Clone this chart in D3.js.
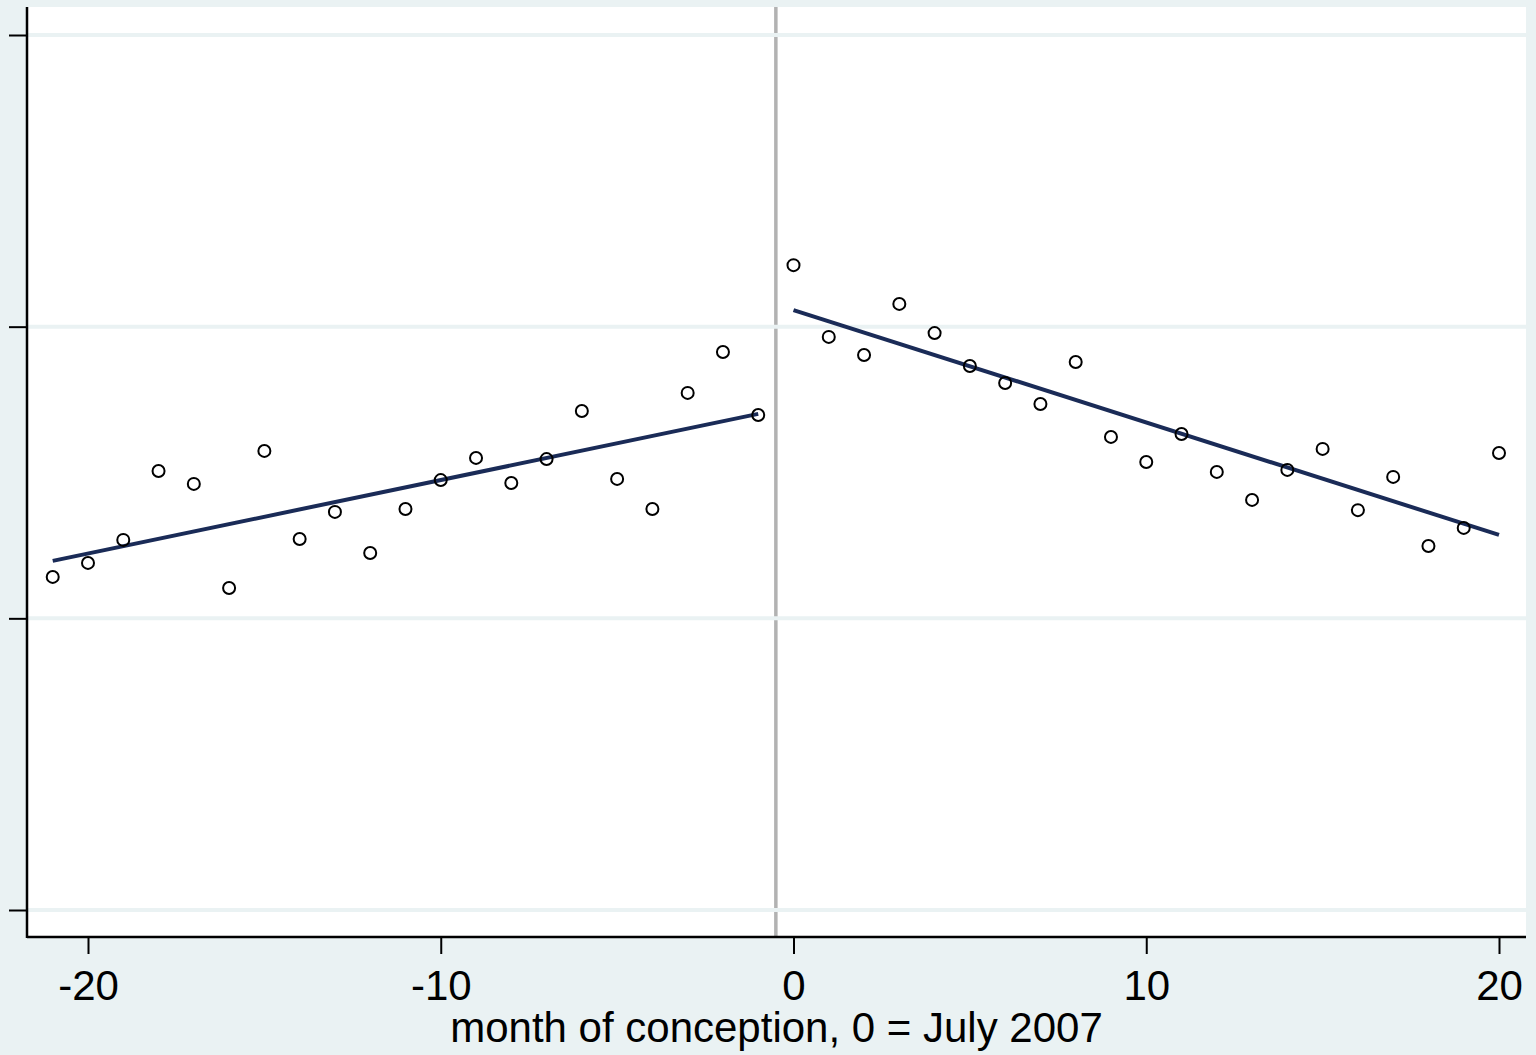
<!DOCTYPE html>
<html>
<head>
<meta charset="utf-8">
<script src="https://cdn.jsdelivr.net/npm/d3@7"></script>
<style>
    html, body { margin: 0; padding: 0; background: #eaf2f3; }
    svg { display: block; }
</style>
</head>
<body>
<div id="graph"></div>
<script>
// months relative to July 2007, one point per month
const monthsBefore = [-21, -20, -19, -18, -17, -16, -15, -14, -13, -12, -11,
    -10, -9, -8, -7, -6, -5, -4, -3, -2, -1];
const valuesBefore = [1.142, 1.190, 1.269, 1.505, 1.461, 1.104, 1.574, 1.272, 1.365, 1.224, 1.375,
    1.474, 1.550, 1.464, 1.546, 1.711, 1.478, 1.375, 1.773, 1.913, 1.697];

const monthsAfter = [0, 1, 2, 3, 4, 5, 6, 7, 8, 9, 10,
    11, 12, 13, 14, 15, 16, 17, 18, 19, 20];
const valuesAfter = [2.211, 1.965, 1.903, 2.078, 1.978, 1.865, 1.807, 1.735, 1.879, 1.622, 1.536,
    1.632, 1.502, 1.406, 1.509, 1.581, 1.371, 1.485, 1.248, 1.310, 1.567];

// linear fit endpoints on each side
const fitBeforeMonths = [-21, -1];
const fitBeforeValues = [1.197, 1.701];
const fitAfterMonths = [0, 20];
const fitAfterValues = [2.057, 1.286];

const cutoff = -0.5;

const xTicks = [-20, -10, 0, 10, 20];
const yTicks = [0, 1, 2, 3];

const width = 1536;
const height = 1055;
const plot = {left: 27, right: 1526, top: 7, bottom: 937};
const font = '42px "Liberation Sans", Arial, sans-serif';

const x = d3.scaleLinear()
    .domain([-20, 20])
    .range([88, 1499]);
const y = d3.scaleLinear()
    .domain([0, 3])
    .range([910, 35]);

const svg = d3.select('#graph').append('svg')
    .attr('width', width)
    .attr('height', height);

svg.append('rect')
    .attr('width', width)
    .attr('height', height)
    .attr('fill', '#eaf2f3');

svg.append('rect')
    .attr('x', plot.left)
    .attr('y', plot.top)
    .attr('width', plot.right - plot.left)
    .attr('height', plot.bottom - plot.top)
    .attr('fill', '#ffffff');

// vertical line at the cutoff (gridlines are drawn over it)
svg.append('line')
    .attr('x1', x(cutoff))
    .attr('x2', x(cutoff))
    .attr('y1', plot.top)
    .attr('y2', plot.bottom)
    .attr('stroke', '#b2b2b2')
    .attr('stroke-width', 3.5);

svg.append('g')
    .attr('class', 'grid')
    .selectAll('line')
    .data(yTicks)
    .enter()
.append('line')
    .attr('x1', plot.left)
    .attr('x2', plot.right)
    .attr('y1', (d) => { return y(d) })
    .attr('y2', (d) => { return y(d) })
    .attr('stroke', '#eaf2f3')
    .attr('stroke-width', 4);

const line = d3.line()
    .x((d) => { return x(d.m) })
    .y((d) => { return y(d.v) });

const fits = [
    fitBeforeMonths.map((m, i) => { return {m: m, v: fitBeforeValues[i]} }),
    fitAfterMonths.map((m, i) => { return {m: m, v: fitAfterValues[i]} })
];

svg.selectAll('.fit')
    .data(fits)
    .enter()
.append('path')
    .attr('class', 'fit')
    .attr('d', line)
    .attr('fill', 'none')
    .attr('stroke', '#1a2b57')
    .attr('stroke-width', 4);

const points = monthsBefore.map((m, i) => { return {m: m, v: valuesBefore[i]} })
    .concat(monthsAfter.map((m, i) => { return {m: m, v: valuesAfter[i]} }));

svg.selectAll('.dot')
    .data(points)
    .enter()
.append('circle')
    .attr('class', 'dot')
    .attr('cx', (d) => { return x(d.m) })
    .attr('cy', (d) => { return y(d.v) })
    .attr('r', 6)
    .attr('fill', 'none')
    .attr('stroke', '#000000')
    .attr('stroke-width', 2);

// axes: y has ticks only, no labels
const yAxis = svg.append('g')
    .attr('transform', 'translate(' + plot.left + ',0)')
    .call(d3.axisLeft(y).tickValues(yTicks).tickSize(18).tickFormat(''));
yAxis.select('.domain').remove();
yAxis.selectAll('line').attr('stroke', '#000').attr('stroke-width', 2);

svg.append('line')
    .attr('x1', plot.left)
    .attr('x2', plot.left)
    .attr('y1', plot.top)
    .attr('y2', plot.bottom + 1)
    .attr('stroke', '#000')
    .attr('stroke-width', 2.5);

const xAxis = svg.append('g')
    .attr('transform', 'translate(0,' + plot.bottom + ')')
    .call(d3.axisBottom(x).tickValues(xTicks).tickSize(17)
        .tickFormat((d) => { return d < 0 ? '-' + Math.abs(d) : d }));
xAxis.select('.domain').remove();
xAxis.selectAll('line').attr('stroke', '#000').attr('stroke-width', 2);
xAxis.selectAll('text')
    .attr('y', 63)
    .attr('dy', 0)
    .attr('fill', '#000')
    .style('font', font);

svg.append('line')
    .attr('x1', plot.left)
    .attr('x2', plot.right)
    .attr('y1', plot.bottom)
    .attr('y2', plot.bottom)
    .attr('stroke', '#000')
    .attr('stroke-width', 2.5);

svg.append('text')
    .attr('x', (plot.left + plot.right) / 2)
    .attr('y', 1042)
    .attr('text-anchor', 'middle')
    .attr('fill', '#000')
    .style('font', font)
    .text('month of conception, 0 = July 2007');
</script>
</body>
</html>
